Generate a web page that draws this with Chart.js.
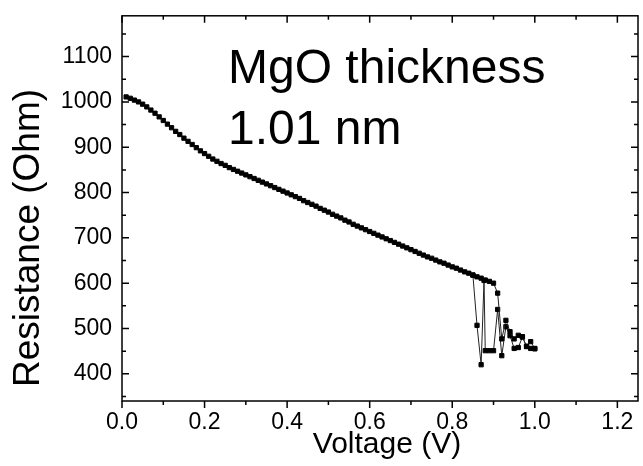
<!DOCTYPE html>
<html>
<head>
<meta charset="utf-8">
<script src="https://cdn.jsdelivr.net/npm/chart.js@4.4.0/dist/chart.umd.min.js"></script>
<style>
  html, body { margin: 0; padding: 0; background: #fff; }
  #wrap { width: 643px; height: 466px; }
</style>
</head>
<body>
<div id="wrap"><canvas id="resChart" width="643" height="466"></canvas></div>
<script>
// Voltage sweep, 0.01 V steps
const voltage = [
  0.01, 0.02, 0.03, 0.04, 0.05, 0.06, 0.07, 0.08, 0.09, 0.10,
  0.11, 0.12, 0.13, 0.14, 0.15, 0.16, 0.17, 0.18, 0.19, 0.20,
  0.21, 0.22, 0.23, 0.24, 0.25, 0.26, 0.27, 0.28, 0.29, 0.30,
  0.31, 0.32, 0.33, 0.34, 0.35, 0.36, 0.37, 0.38, 0.39, 0.40,
  0.41, 0.42, 0.43, 0.44, 0.45, 0.46, 0.47, 0.48, 0.49, 0.50,
  0.51, 0.52, 0.53, 0.54, 0.55, 0.56, 0.57, 0.58, 0.59, 0.60,
  0.61, 0.62, 0.63, 0.64, 0.65, 0.66, 0.67, 0.68, 0.69, 0.70,
  0.71, 0.72, 0.73, 0.74, 0.75, 0.76, 0.77, 0.78, 0.79, 0.80,
  0.81, 0.82, 0.83, 0.84, 0.85, 0.86, 0.87, 0.88, 0.89, 0.90,
  0.91, 0.92, 0.93, 0.94, 0.95, 0.96, 0.97, 0.98, 0.99, 1.00
];
const resistance = [
  1011, 1008, 1004, 1000, 995, 989, 982, 975, 967, 959,
  951, 943, 935, 928, 920, 913, 906, 899, 892, 886,
  880, 874, 869, 864, 860, 855, 851, 847, 843, 839,
  835, 831, 827, 823, 819, 815, 811, 807, 803, 799,
  795, 791, 787, 782, 778, 774, 770, 765, 761, 757,
  752, 748, 744, 739, 735, 730, 726, 722, 718, 714,
  710, 706, 702, 698, 694, 690, 686, 682, 678, 674,
  670, 666, 662, 658, 655, 651, 647, 644, 640, 636,
  633, 629, 625, 622, 618, 614, 611, 607, 604, 600,
  578, 477, 518, 493, 477, 485, 482, 460, 471, 456
];
// second run, only where it leaves the first one
const voltage2 = [0.85, 0.86, 0.87, 0.877, 0.88, 0.89, 0.90, 0.91, 0.92, 0.93, 0.94, 0.95, 0.96, 0.97, 0.98, 0.99, 1.00];
const resistance2 = [618, 507, 420, 606, 451, 451, 451, 542, 440, 504, 484, 456, 458, 481, 461, 456, 455];

const xTicks = [0, 0.2, 0.4, 0.6, 0.8, 1.0, 1.2];
const xMinor = [0.1, 0.3, 0.5, 0.7, 0.9, 1.1];
const yTicks = [400, 500, 600, 700, 800, 900, 1000, 1100];
const yMinor = [350, 450, 550, 650, 750, 850, 950, 1050, 1150];

const toPts = (xs, ys) => xs.map((x, i) => ({ x: x, y: ys[i] }));

const FONT = "'Liberation Sans', Arial, Helvetica, sans-serif";

const frame = {
  id: 'frame',
  afterDatasetsDraw(chart) {
    const { ctx, chartArea: a, scales: { x, y } } = chart;
    ctx.save();
    ctx.strokeStyle = '#000';
    ctx.lineWidth = 1.5;
    ctx.strokeRect(a.left, a.top, a.right - a.left, a.bottom - a.top);
    ctx.beginPath();
    const tick = (vals, len) => {
      vals.forEach(v => {
        const px = x.getPixelForValue(v);
        ctx.moveTo(px, a.bottom); ctx.lineTo(px, a.bottom + len);
        ctx.moveTo(px, a.top); ctx.lineTo(px, a.top + len);
      });
    };
    const ytick = (vals, len) => {
      vals.forEach(v => {
        const py = y.getPixelForValue(v);
        ctx.moveTo(a.left, py); ctx.lineTo(a.left + len, py);
        ctx.moveTo(a.right, py); ctx.lineTo(a.right - len, py);
      });
    };
    tick(xTicks, 7); tick(xMinor, 4);
    ytick(yTicks, 7); ytick(yMinor, 4);
    ctx.stroke();
    ctx.fillStyle = '#000';
    // label inside the plot
    ctx.font = '48px ' + FONT;
    ctx.textBaseline = 'alphabetic';
    ctx.textAlign = 'left';
    ctx.fillText('MgO thickness', 228, 83);
    ctx.fillText('1.01 nm', 228, 144);
    // axis titles
    ctx.textAlign = 'center';
    ctx.textBaseline = 'middle';
    ctx.font = '30px ' + FONT;
    ctx.fillText('Voltage (V)', 387, 445);
    ctx.translate(29, 238);
    ctx.rotate(-Math.PI / 2);
    ctx.font = '37px ' + FONT;
    ctx.fillText('Resistance (Ohm)', 0, 0);
    ctx.restore();
  }
};

const seriesStyle = {
  showLine: true,
  borderColor: '#222',
  borderWidth: 1,
  pointStyle: 'rect',
  pointRadius: 3,
  pointBorderWidth: 1,
  pointBackgroundColor: '#000',
  pointBorderColor: '#000'
};

new Chart(document.getElementById('resChart'), {
  type: 'scatter',
  data: {
    datasets: [
      Object.assign({ data: toPts(voltage, resistance) }, seriesStyle),
      Object.assign({ data: toPts(voltage2, resistance2) }, seriesStyle)
    ]
  },
  options: {
    responsive: false,
    animation: false,
    layout: { padding: { top: 13, right: 1, left: 0, bottom: 0 } },
    plugins: { legend: { display: false }, tooltip: { enabled: false } },
    scales: {
      x: {
        type: 'linear',
        min: 0,
        max: 1.25,
        grid: { display: false },
        border: { display: false },
        afterBuildTicks: s => { s.ticks = xTicks.map(v => ({ value: v })); },
        afterFit: s => { s.height = 65; },
        ticks: {
          padding: 0,
          color: '#000',
          font: { family: FONT, size: 23 },
          maxRotation: 0,
          autoSkip: false,
          callback: v => v.toFixed(1)
        }
      },
      y: {
        type: 'linear',
        min: 340,
        max: 1190,
        grid: { display: false },
        border: { display: false },
        afterBuildTicks: s => { s.ticks = yTicks.map(v => ({ value: v })); },
        afterFit: s => { s.width = 122; },
        ticks: {
          padding: 2,
          color: '#000',
          font: { family: FONT, size: 23 },
          autoSkip: false,
          callback: v => String(v)
        }
      }
    }
  },
  plugins: [frame]
});
</script>
</body>
</html>
